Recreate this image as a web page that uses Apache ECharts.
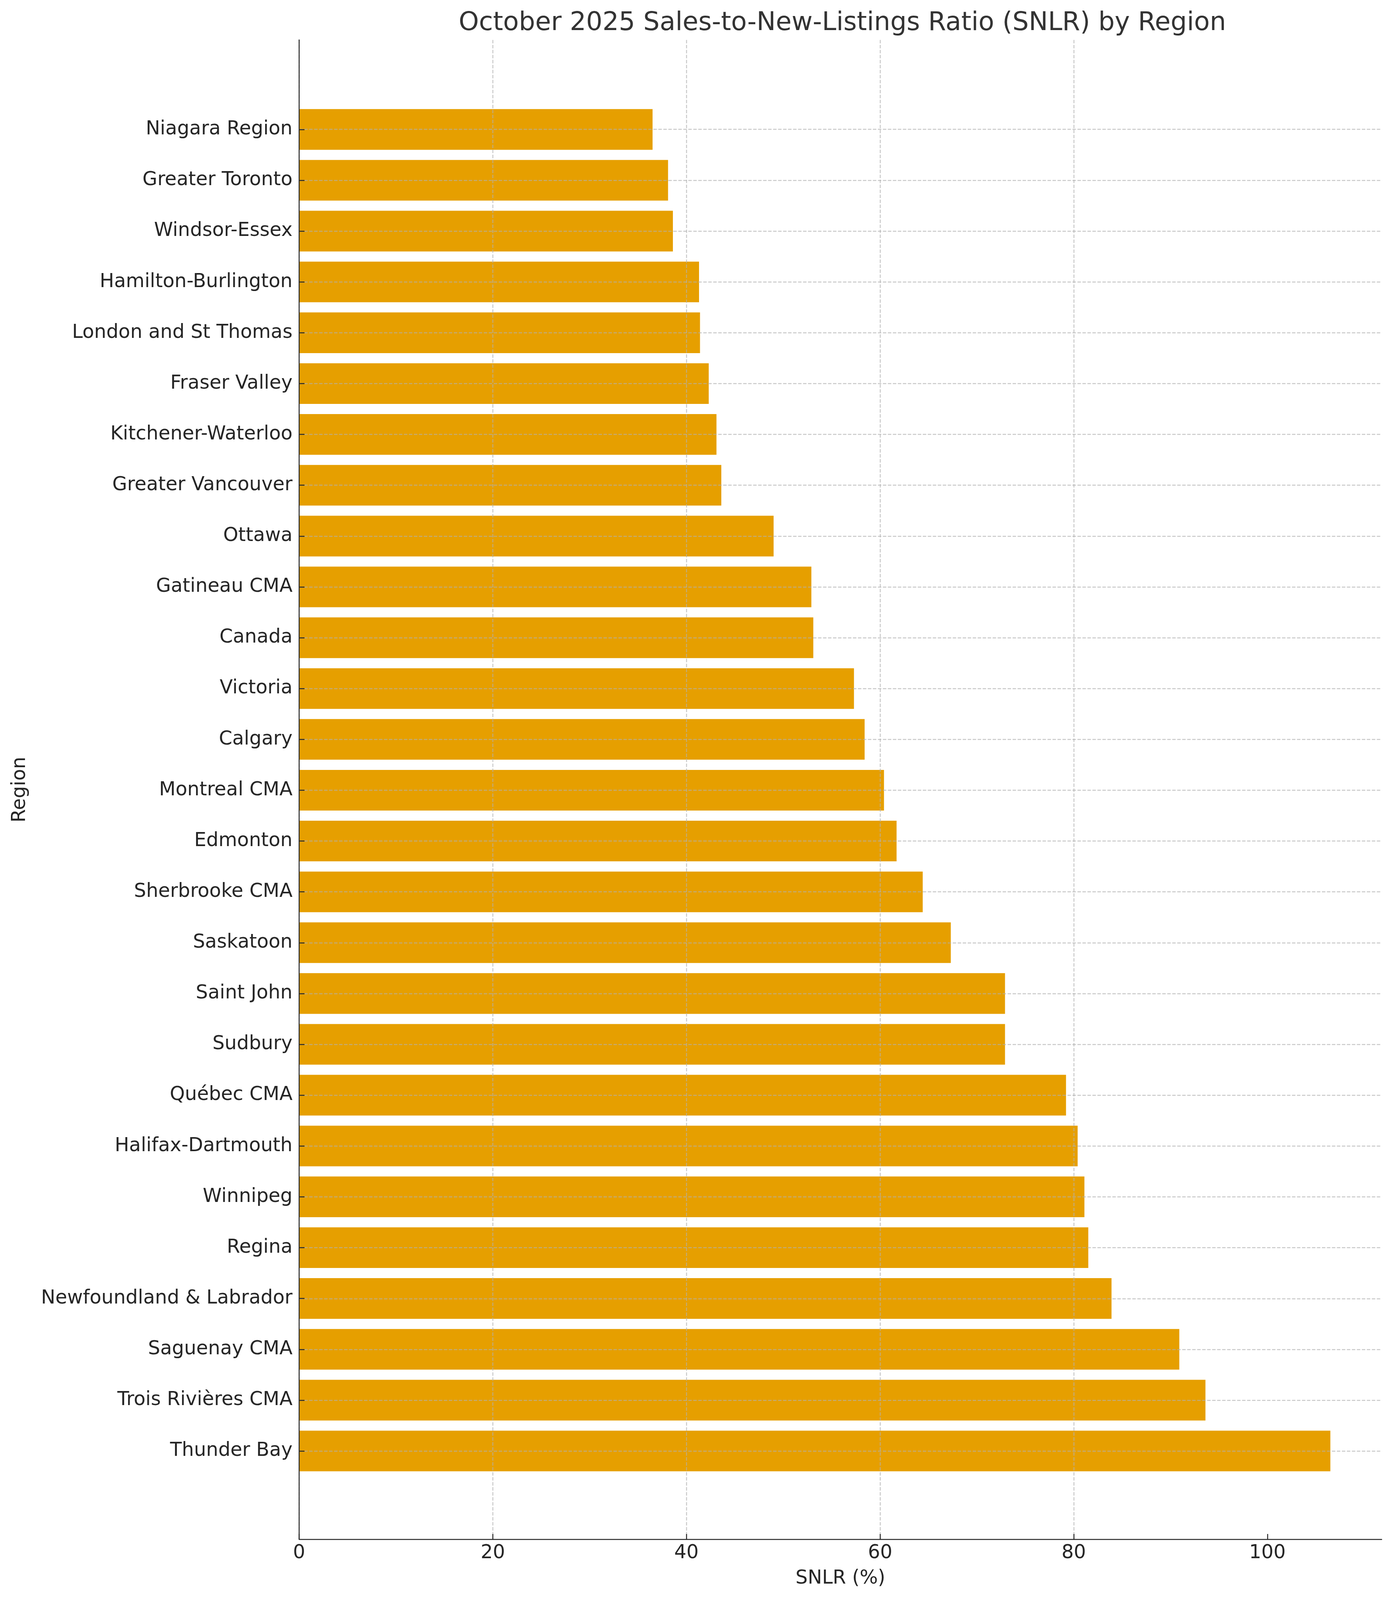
<!DOCTYPE html>
<html>
<head>
<meta charset="utf-8">
<script src="https://cdn.jsdelivr.net/npm/echarts@6/dist/echarts.min.js"></script>
<style>
  html, body { margin: 0; padding: 0; background: #fff; overflow: hidden; }
  #chart { width: 100vw; height: 100vh; }
</style>
</head>
<body>
<div id="chart"></div>
<script>
// data, top to bottom
const regions = [
  'Niagara Region', 'Greater Toronto', 'Windsor-Essex', 'Hamilton-Burlington',
  'London and St Thomas', 'Fraser Valley', 'Kitchener-Waterloo', 'Greater Vancouver',
  'Ottawa', 'Gatineau CMA', 'Canada', 'Victoria', 'Calgary', 'Montreal CMA',
  'Edmonton', 'Sherbrooke CMA', 'Saskatoon', 'Saint John', 'Sudbury', 'Québec CMA',
  'Halifax-Dartmouth', 'Winnipeg', 'Regina', 'Newfoundland & Labrador',
  'Saguenay CMA', 'Trois Rivières CMA', 'Thunder Bay'
];
const snlr = [
  36.5, 38.1, 38.6, 41.3, 41.4, 42.3, 43.1, 43.6, 49.0, 52.9, 53.1, 57.3, 58.4, 60.4,
  61.7, 64.4, 67.3, 72.9, 72.9, 79.2, 80.4, 81.1, 81.5, 83.9, 90.9, 93.6, 106.5
];
const xTicks = [0, 20, 40, 60, 80, 100];
const xMax = 111.8;

const el = document.getElementById('chart');
const W = el.clientWidth, H = el.clientHeight;
// layout was measured on a 3567 x 4168 picture
const sx = W / 3567, sy = H / 4168, s = Math.min(sx, sy);

const font = 'DejaVu Sans';
const ink = '#262626';
const gridDash = { color: 'rgba(176,176,176,0.7)', width: 2.5 * s, type: [9 * s, 4 * s] };

const chart = echarts.init(el, null, { width: W, height: H });

const option = {
  backgroundColor: '#ffffff',
  animation: false,
  title: {
    text: 'October 2025 Sales-to-New-Listings Ratio (SNLR) by Region',
    left: 2152 * sx, top: 22 * sy, textAlign: 'center',
    textStyle: { fontFamily: font, fontSize: 67 * s, fontWeight: 'normal', color: '#333333' }
  },
  grid: [
    // frame: spines, ticks and vertical grid
    { left: 766 * sx, right: 29 * sx, top: 104 * sy, bottom: 158 * sy },
    // bars
    { left: 766 * sx, right: 29 * sx, top: 271 * sy, bottom: 322 * sy },
    // horizontal grid lines through the bar centres
    { left: 766 * sx, right: 29 * sx, top: 337 * sy, bottom: 388 * sy }
  ],
  xAxis: [
    {
      gridIndex: 0, type: 'value', min: 0, max: xMax, interval: 20, z: 3,
      name: 'SNLR (%)', nameLocation: 'middle', nameGap: 77 * sy,
      nameTextStyle: { fontFamily: font, fontSize: 50 * s, color: ink },
      axisLine: { show: true, lineStyle: { color: ink, width: 2.5 * s } },
      axisTick: { show: true, inside: true, length: 14 * s, customValues: xTicks,
                  lineStyle: { color: ink, width: 2.5 * s } },
      axisLabel: { fontFamily: font, fontSize: 50 * s, color: ink, margin: 11 * sy,
                   customValues: xTicks },
      splitLine: { show: true, showMaxLine: false, lineStyle: gridDash }
    },
    { gridIndex: 1, type: 'value', min: 0, max: xMax, show: false },
    { gridIndex: 2, type: 'value', min: 0, max: xMax, show: false }
  ],
  yAxis: [
    {
      gridIndex: 0, type: 'value', min: 0, max: 1, z: 3,
      name: 'Region', nameLocation: 'middle', nameGap: 690 * sx,
      nameTextStyle: { fontFamily: font, fontSize: 50 * s, color: ink },
      axisLine: { show: true, lineStyle: { color: ink, width: 2.5 * s } },
      axisTick: { show: false }, axisLabel: { show: false }, splitLine: { show: false }
    },
    {
      gridIndex: 1, type: 'category', data: regions, inverse: true, z: 3,
      axisLine: { show: false },
      axisTick: { show: true, inside: true, alignWithLabel: true, length: 14 * s,
                  lineStyle: { color: ink, width: 2.5 * s } },
      axisLabel: { fontFamily: font, fontSize: 50 * s, color: ink, margin: 17 * sx, interval: 0 },
      splitLine: { show: false }
    },
    {
      gridIndex: 2, type: 'category', data: regions, inverse: true, boundaryGap: false, z: 3,
      axisLine: { show: false }, axisTick: { show: false }, axisLabel: { show: false },
      splitLine: { show: true, interval: 0, lineStyle: gridDash }
    }
  ],
  series: [
    {
      type: 'bar', xAxisIndex: 1, yAxisIndex: 1,
      data: snlr, barWidth: '80%',
      itemStyle: { color: '#E69F00' }
    }
  ]
};

chart.setOption(option);
</script>
</body>
</html>
